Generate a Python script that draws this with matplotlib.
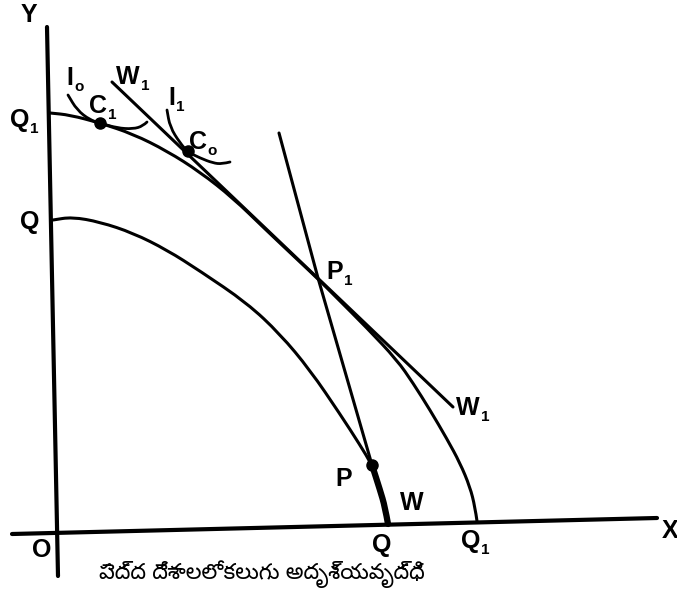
import matplotlib.pyplot as plt
from matplotlib.path import Path
from matplotlib.patches import PathPatch

# diagram (units = pixels of the scan, y grows downwards)
y_axis_x = [47, 58]
y_axis_y = [27, 576]
x_axis_x = [12, 657]
x_axis_y = [534, 518]

# outer production possibility curve Q1-Q1
ppc_outer_x = [50, 70, 100, 133, 167, 200, 233, 265, 300, 318, 335, 367, 397,
               413, 430, 447, 460, 470, 475, 477]
ppc_outer_y = [113, 115, 123, 134, 151, 172, 198, 229, 262, 279, 296, 328, 360,
               383, 410, 439, 463, 487, 507, 521]

# inner production possibility curve Q-Q
ppc_inner_x = [53, 72, 100, 133, 167, 200, 247, 280, 310, 340, 360, 372, 380, 388]
ppc_inner_y = [220, 217, 222, 233, 250, 271, 303, 334, 370, 414, 445, 465, 490, 524]

# thick part W of the inner curve (from P down to Q)
w_seg_x = [372, 380, 385, 388]
w_seg_y = [465, 490, 507, 524]

# terms of trade lines
w1_line_x = [112, 453]
w1_line_y = [82, 407]
w_line_x = [279, 318, 372]
w_line_y = [133, 278, 465]

# indifference curves
i0_x = [68, 77, 90, 100, 117, 133, 143, 147]
i0_y = [95, 110, 120, 123, 128, 129, 126, 122]
i1_x = [167, 170, 180, 188, 200, 213, 222, 230]
i1_y = [110, 127, 143, 152, 158, 163, 164, 162]

# points
dots_x = [100, 188, 372]
dots_y = [123, 151, 465]

# labels: (text, subscript, x, y)
labels = [
    ('Y', '', 29, 15), ('X', '', 670, 531), ('O', '', 42, 550),
    ('Q', '1', 20, 120), ('Q', '', 30, 222),
    ('Q', '', 382, 545), ('Q', '1', 471, 541),
    ('I', 'o', 70, 78), ('I', '1', 172, 98),
    ('C', '1', 98, 106), ('C', 'o', 198, 142),
    ('W', '1', 128, 77), ('W', '1', 468, 408), ('W', '', 412, 503),
    ('P', '1', 335, 272), ('P', '', 344, 479),
]
caption = 'పెద్ద దేశాలలో కలుగు అదృశ్యవృద్ధి'


def smooth_curve(ax, xs, ys, lw):
    # quadratic bezier through the midpoints of the read points
    pts = list(zip(xs, ys))
    verts = [pts[0]]
    codes = [Path.MOVETO]
    if len(pts) > 2:
        mid = ((pts[0][0] + pts[1][0]) / 2, (pts[0][1] + pts[1][1]) / 2)
        verts.append(mid)
        codes.append(Path.LINETO)
        for i in range(1, len(pts) - 1):
            nxt = pts[i + 1] if i == len(pts) - 2 else (
                (pts[i][0] + pts[i + 1][0]) / 2, (pts[i][1] + pts[i + 1][1]) / 2)
            verts += [pts[i], nxt]
            codes += [Path.CURVE3, Path.CURVE3]
    else:
        verts.append(pts[1])
        codes.append(Path.LINETO)
    ax.add_patch(PathPatch(Path(verts, codes), fill=False, lw=lw,
                           edgecolor='black', capstyle='round', joinstyle='round'))


fig = plt.figure(figsize=(6.77, 6.03), dpi=100)
ax = fig.add_axes([0, 0, 1, 1])
ax.set_xlim(0, 677)
ax.set_ylim(603, 0)
ax.axis('off')

kw = dict(color='black', solid_capstyle='round', solid_joinstyle='round')
ax.plot(y_axis_x, y_axis_y, lw=3.0, **kw)
ax.plot(x_axis_x, x_axis_y, lw=3.0, **kw)
smooth_curve(ax, ppc_outer_x, ppc_outer_y, 2.2)
smooth_curve(ax, ppc_inner_x, ppc_inner_y, 2.2)
smooth_curve(ax, w_seg_x, w_seg_y, 4.5)
ax.plot(w1_line_x, w1_line_y, lw=2.2, **kw)
ax.plot(w_line_x, w_line_y, lw=2.2, **kw)
smooth_curve(ax, i0_x, i0_y, 2.0)
smooth_curve(ax, i1_x, i1_y, 2.0)
ax.plot(dots_x, dots_y, 'o', color='black', ms=8)

for txt, sub, x, y in labels:
    t = ax.text(x, y, txt, fontsize=18, fontweight='bold', ha='center',
                va='center', family='Liberation Sans')
    if sub:
        ax.annotate(sub, xy=(1, 0), xycoords=t, xytext=(0.5, -3),
                    textcoords='offset points', fontsize=11, fontweight='bold',
                    ha='left', va='bottom', family='Liberation Sans')

ax.text(262, 574, caption, fontsize=16, ha='center', va='center',
        family=['Noto Sans Telugu', 'Noto Sans', 'DejaVu Sans'])

fig.savefig('out.png', dpi=100)
